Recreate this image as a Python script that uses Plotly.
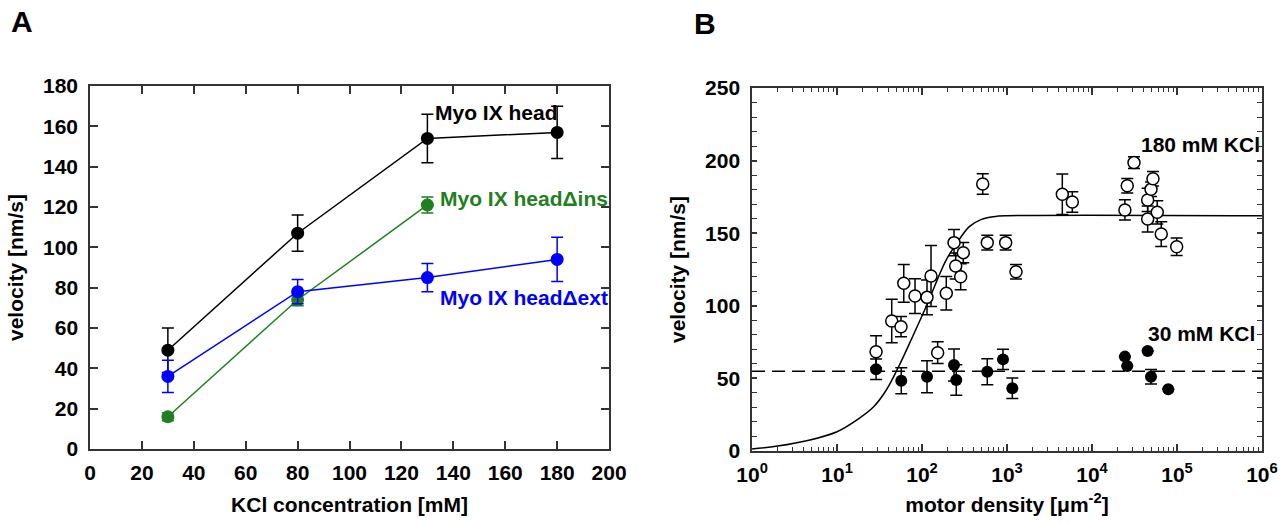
import plotly.graph_objects as go

# ---------------- Panel A data ----------------
kcl = [30, 80, 130, 180]
head_v = [49, 107, 154, 157]
head_err = [11, 9, 12, 13]
ins_kcl = [30, 80, 130]
ins_v = [16, 74, 121]
ins_err = [2, 3, 4]
ext_v = [36, 78, 85, 94]
ext_err = [8, 6, 7, 11]

# ---------------- Panel B data ----------------
open_x = [28.8, 44, 56.6, 61, 82.7, 114.5, 127.6, 152.8, 193, 238, 249, 306, 285,
          518, 586, 965, 1276, 4475, 5870, 24400, 26000, 31200, 45200, 45200,
          49500, 52200, 58600, 65300, 99200]
open_v = [68.4, 89.5, 85.6, 115.5, 106.7, 105.8, 120.5, 67.7, 108.6, 143.5, 127.4,
          136.6, 120, 183.9, 143.5, 143.5, 123.5, 176.8, 171.5, 166, 182.7, 198.6,
          172.9, 159.8, 180.2, 187.5, 164.4, 149.4, 140.7]
open_err = [11, 15, 7, 13, 12, 12, 21, 7.5, 11.5, 9, 9, 7, 9, 7, 5, 5, 5, 14, 7,
            7, 5, 4, 8, 9, 5, 5, 8, 8.5, 6]

fill_x = [28.8, 57, 114.5, 238, 253, 586, 897, 1155, 24400, 26000, 45200, 49500, 79000]
fill_v = [56.3, 48.4, 51.2, 59.2, 48.9, 54.6, 63.1, 43.2, 65, 58.5, 68.9, 51.2, 42.5]
fill_err = [7, 9, 11, 11, 10.5, 9, 7, 7, 0, 0, 0, 5, 0]

fit_x = [1, 2, 4.8, 10, 17, 27, 38, 53, 75, 113, 190, 256, 360, 500, 700, 1000, 1e6]
fit_v = [1.4, 3.4, 7.6, 13.3, 21.3, 30.5, 42, 58, 77, 100, 131, 143, 154.5, 159.5,
         161.4, 162, 162]

level_x = [1, 1e6]
level_v = [55, 55]

decades = [1, 10, 100, 1000, 10000, 100000, 1000000]
decade_labels = ["10<sup>0</sup>", "10<sup>1</sup>", "10<sup>2</sup>", "10<sup>3</sup>",
                 "10<sup>4</sup>", "10<sup>5</sup>", "10<sup>6</sup>"]

FONT = "Liberation Sans, Arial, sans-serif"
BLACK = "#000000"
GREEN = "#1f801f"
BLUE = "#0000ff"
AX = "#333333"

fig = go.Figure()


def err(arr, color, w=6):
    return dict(type="data", array=arr, visible=True, color=color, thickness=1.5, width=w)


# Panel A traces
fig.add_trace(go.Scatter(x=kcl, y=head_v, mode="lines+markers", error_y=err(head_err, BLACK),
                         line=dict(color=BLACK, width=1.5), marker=dict(size=13, color=BLACK),
                         xaxis="x", yaxis="y", showlegend=False))
fig.add_trace(go.Scatter(x=ins_kcl, y=ins_v, mode="lines+markers", error_y=err(ins_err, GREEN),
                         line=dict(color=GREEN, width=1.5), marker=dict(size=13, color=GREEN),
                         xaxis="x", yaxis="y", showlegend=False))
fig.add_trace(go.Scatter(x=kcl, y=ext_v, mode="lines+markers", error_y=err(ext_err, BLUE),
                         line=dict(color=BLUE, width=1.5), marker=dict(size=13, color=BLUE),
                         xaxis="x", yaxis="y", showlegend=False))

# Panel B traces
fig.add_trace(go.Scatter(x=fit_x, y=fit_v, mode="lines", line=dict(color=BLACK, width=1.5, shape="spline"),
                         xaxis="x2", yaxis="y2", showlegend=False))
fig.add_trace(go.Scatter(x=level_x, y=level_v, mode="lines",
                         line=dict(color=BLACK, width=1.5, dash="13px,7px"),
                         xaxis="x2", yaxis="y2", showlegend=False))
fig.add_trace(go.Scatter(x=open_x, y=open_v, mode="markers", error_y=err(open_err, BLACK),
                         marker=dict(size=12, color="white", line=dict(color=BLACK, width=1.5)),
                         xaxis="x2", yaxis="y2", showlegend=False))
fig.add_trace(go.Scatter(x=fill_x, y=fill_v, mode="markers", error_y=err(fill_err, BLACK),
                         marker=dict(size=12, color=BLACK),
                         xaxis="x2", yaxis="y2", showlegend=False))

tickfont = dict(family=FONT, size=21, color=BLACK, weight="bold")
titlefont = dict(family=FONT, size=21, color=BLACK, weight="bold")

common = dict(showline=True, linecolor=AX, linewidth=1.5, mirror="ticks", ticks="inside",
              tickcolor=AX, tickwidth=1.5, showgrid=False, zeroline=False, tickfont=tickfont,
              automargin=False)

fig.update_layout(
    width=1286, height=524, autosize=False,
    margin=dict(l=0, r=0, t=0, b=0, autoexpand=False),
    paper_bgcolor="white", plot_bgcolor="white",
    xaxis=dict(domain=[0.0700, 0.4736], range=[0, 200], tickmode="linear", tick0=0, dtick=20,
               ticklen=8, anchor="y", ticklabelstandoff=4,
               title=dict(text="KCl concentration [mM]", font=titlefont, standoff=14), **common),
    yaxis=dict(domain=[0.1431, 0.8359], range=[0, 180], tickmode="linear", tick0=0, dtick=20,
               ticklen=8, anchor="x", ticklabelstandoff=6,
               title=dict(text="velocity [nm/s]", font=titlefont, standoff=14), **common),
    xaxis2=dict(domain=[0.5848, 0.9813], type="log", range=[0, 6], tickmode="array",
                tickvals=decades, ticktext=decade_labels, ticklen=7, anchor="y2",
                ticklabelstandoff=4,
                minor=dict(ticks="inside", ticklen=4, tickcolor=AX, tickwidth=1.2, dtick="D1"),
                title=dict(text="motor density [μm<sup>-2</sup>]", font=titlefont, standoff=12),
                **common),
    yaxis2=dict(domain=[0.1393, 0.8321], range=[0, 250], tickmode="linear", tick0=0, dtick=50,
                ticklen=5, anchor="x2", ticklabelstandoff=6,
                minor=dict(ticks="inside", ticklen=5, tickcolor=AX, tickwidth=1.2, dtick=10),
                title=dict(text="velocity [nm/s]", font=titlefont, standoff=14), **common),
)

annfont = dict(family=FONT, size=21, weight="bold")
fig.add_annotation(x=132, y=167, xref="x", yref="y", text="Myo IX head", showarrow=False,
                   xanchor="left", yanchor="middle", font=dict(annfont, color=BLACK))
fig.add_annotation(x=134, y=124, xref="x", yref="y", text="Myo IX headΔins", showarrow=False,
                   xanchor="left", yanchor="middle", font=dict(annfont, color=GREEN))
fig.add_annotation(x=134, y=75, xref="x", yref="y", text="Myo IX headΔext", showarrow=False,
                   xanchor="left", yanchor="middle", font=dict(annfont, color=BLUE))
fig.add_annotation(x=1.0, y=211, xref="x2 domain", yref="y2", text="180 mM KCl", showarrow=False,
                   xanchor="right", yanchor="middle", font=dict(annfont, color=BLACK))
fig.add_annotation(x=0.99, y=81, xref="x2 domain", yref="y2", text="30 mM KCl", showarrow=False,
                   xanchor="right", yanchor="middle", font=dict(annfont, color=BLACK))

panel_font = dict(family=FONT, size=30, weight="bold", color=BLACK)
fig.add_annotation(x=9 / 1286, y=1 - 21 / 524, xref="paper", yref="paper", text="A",
                   showarrow=False, xanchor="left", yanchor="middle", font=panel_font)
fig.add_annotation(x=692 / 1286, y=1 - 24 / 524, xref="paper", yref="paper", text="B",
                   showarrow=False, xanchor="left", yanchor="middle", font=panel_font)

fig.write_html("out.html", config={"displayModeBar": False},
               post_script="document.body.style.margin='0';document.body.style.overflow='hidden';")
